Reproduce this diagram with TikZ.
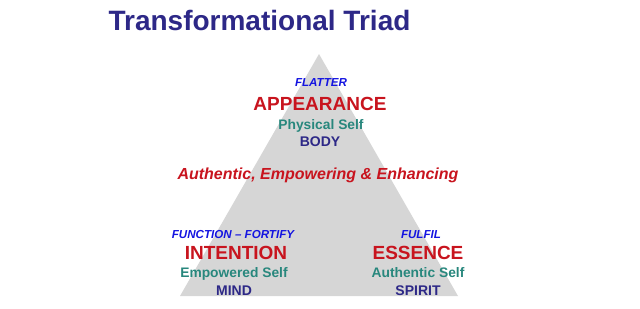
\documentclass[tikz,border=0pt]{standalone}
\usepackage{fontspec}
\setmainfont{Liberation Sans}
\usetikzlibrary{positioning}
\definecolor{titlenavy}{RGB}{45,40,135}
\definecolor{headred}{RGB}{200,20,30}
\definecolor{selfteal}{RGB}{40,135,125}
\definecolor{cueblue}{RGB}{20,20,225}
\definecolor{trianglegray}{RGB}{214,214,214}

\tikzset{
  titletext/.style={font=\bfseries\fontsize{28}{30}\selectfont,text=titlenavy},
  cuetext/.style={font=\bfseries\itshape\fontsize{11.6}{13}\selectfont,text=cueblue},
  headtext/.style={font=\fontsize{19}{21}\selectfont\bfseries,text=headred},
  selftext/.style={font=\bfseries\fontsize{13.8}{15}\selectfont,text=selfteal},
  basetext/.style={font=\bfseries\fontsize{14}{15}\selectfont,text=titlenavy},
  themetext/.style={font=\bfseries\itshape\fontsize{16}{18}\selectfont,text=headred}
}

\begin{document}
\begin{tikzpicture}[x=1pt,y=-1pt,every node/.style={inner sep=0pt,anchor=base}]
  \useasboundingbox (0,0) rectangle (640,308);

  % Triangle
  \fill[trianglegray] (319,54) -- (458,296) -- (180,296) -- cycle;

  % Title
  \node[titletext] (title) at (259.5,30) {Transformational Triad};

  % Top corner
  \node[cuetext] (flatter) at (321,86) {FLATTER};
  \node[headtext] (appearance) at (320,110) {APPEARANCE};
  \node[selftext] (physical) at (321,129) {Physical Self};
  \node[basetext] (body) at (320,146) {BODY};

  % Middle
  \node[themetext] (theme) at (318,179) {Authentic, Empowering \& Enhancing};

  % Left corner
  \node[cuetext] (function) at (233,238) {FUNCTION – FORTIFY};
  \node[headtext] (intention) at (236,259) {INTENTION};
  \node[selftext] (empowered) at (234,277) {Empowered Self};
  \node[basetext] (mind) at (234,295) {MIND};

  % Right corner
  \node[cuetext] (fulfil) at (421,238) {FULFIL};
  \node[headtext] (essence) at (418,259) {ESSENCE};
  \node[selftext] (authentic) at (418,277) {Authentic Self};
  \node[basetext] (spirit) at (418,295) {SPIRIT};
\end{tikzpicture}
\end{document}
